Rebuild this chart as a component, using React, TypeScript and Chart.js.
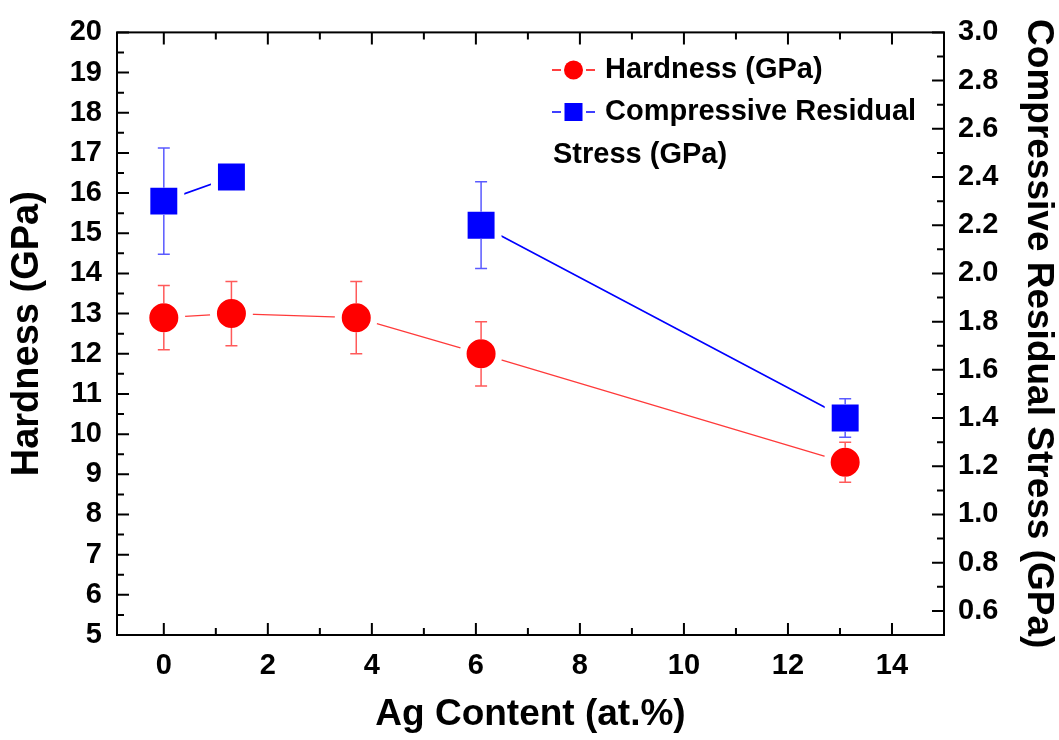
import React, { useEffect, useRef } from 'react';
import { Chart, registerables } from 'chart.js';

Chart.register(...registerables);

const FONT = '"Liberation Sans", Arial, Helvetica, sans-serif';

// ---- data ----
const AG_CONTENT = [0, 1.3, 3.7, 6.1, 13.1];
const HARDNESS = [12.9, 13.0, 12.9, 12.0, 9.3];
const HARDNESS_ERR = [0.8, 0.8, 0.9, 0.8, 0.5];
const STRESS: (number | null)[] = [2.3, 2.4, null, 2.2, 1.4];
const STRESS_ERR: (number | null)[] = [0.22, 0.04, null, 0.18, 0.08];

// ---- ticks ----
const X_TICKS = [0, 2, 4, 6, 8, 10, 12, 14];
const X_MINOR = [1, 3, 5, 7, 9, 11, 13];
const LEFT_TICKS = [5, 6, 7, 8, 9, 10, 11, 12, 13, 14, 15, 16, 17, 18, 19, 20];
const LEFT_MINOR = [5.5, 6.5, 7.5, 8.5, 9.5, 10.5, 11.5, 12.5, 13.5, 14.5, 15.5, 16.5, 17.5, 18.5, 19.5];
const RIGHT_TICKS = [0.6, 0.8, 1.0, 1.2, 1.4, 1.6, 1.8, 2.0, 2.2, 2.4, 2.6, 2.8, 3.0];
const RIGHT_MINOR = [0.7, 0.9, 1.1, 1.3, 1.5, 1.7, 1.9, 2.1, 2.3, 2.5, 2.7, 2.9];

const X_TITLE = 'Ag Content (at.%)';
const LEFT_TITLE = 'Hardness (GPa)';
const RIGHT_TITLE = 'Compressive Residual Stress (GPa)';
const LEGEND_HARDNESS = 'Hardness (GPa)';
const LEGEND_STRESS_1 = 'Compressive Residual';
const LEGEND_STRESS_2 = 'Stress (GPa)';

const RED = '#ff0000';
const BLUE = '#0000ff';
const RED_ERR = '#ff5a5a';
const BLUE_ERR = '#5a5aff';

const CIRCLE_HALF = 14.5;
const SQUARE_HALF = 13.5;
const TICK_SIZE = 29;

const framePlugin = {
  id: 'frameTicksErr',
  afterDatasetsDraw(chart: any) {
    const { ctx, scales } = chart;
    const drawErr = (yScale: any, vals: (number | null)[], errs: (number | null)[], color: string, half: number) => {
      ctx.save();
      ctx.strokeStyle = color;
      ctx.lineWidth = 1.5;
      AG_CONTENT.forEach((xv, i) => {
        const v = vals[i];
        const e = errs[i];
        if (v == null || e == null) return;
        const x = scales.x.getPixelForValue(xv);
        const yc = yScale.getPixelForValue(v);
        const yt = yScale.getPixelForValue(v + e);
        const yb = yScale.getPixelForValue(v - e);
        ctx.beginPath();
        if (yc - yt > half) {
          ctx.moveTo(x, yt);
          ctx.lineTo(x, yc - half);
          ctx.moveTo(x - 6, yt);
          ctx.lineTo(x + 6, yt);
        }
        if (yb - yc > half) {
          ctx.moveTo(x, yc + half);
          ctx.lineTo(x, yb);
          ctx.moveTo(x - 6, yb);
          ctx.lineTo(x + 6, yb);
        }
        ctx.stroke();
      });
      ctx.restore();
    };
    drawErr(scales.y, HARDNESS, HARDNESS_ERR, RED_ERR, CIRCLE_HALF);
    drawErr(scales.y1, STRESS, STRESS_ERR, BLUE_ERR, SQUARE_HALF);
  },
  afterDraw(chart: any) {
    const { ctx, chartArea: a, scales } = chart;
    ctx.save();
    ctx.strokeStyle = '#000';
    ctx.lineWidth = 2;
    ctx.strokeRect(a.left, a.top, a.right - a.left, a.bottom - a.top);
    ctx.beginPath();
    const MAJ = 12;
    const MIN = 7;
    X_TICKS.forEach((v) => {
      const x = scales.x.getPixelForValue(v);
      ctx.moveTo(x, a.bottom); ctx.lineTo(x, a.bottom - MAJ);
      ctx.moveTo(x, a.top); ctx.lineTo(x, a.top + MAJ);
    });
    X_MINOR.forEach((v) => {
      const x = scales.x.getPixelForValue(v);
      ctx.moveTo(x, a.bottom); ctx.lineTo(x, a.bottom - MIN);
      ctx.moveTo(x, a.top); ctx.lineTo(x, a.top + MIN);
    });
    LEFT_TICKS.forEach((v) => {
      const y = scales.y.getPixelForValue(v);
      ctx.moveTo(a.left, y); ctx.lineTo(a.left + MAJ, y);
    });
    LEFT_MINOR.forEach((v) => {
      const y = scales.y.getPixelForValue(v);
      ctx.moveTo(a.left, y); ctx.lineTo(a.left + MIN, y);
    });
    RIGHT_TICKS.forEach((v) => {
      const y = scales.y1.getPixelForValue(v);
      ctx.moveTo(a.right, y); ctx.lineTo(a.right - MAJ, y);
    });
    RIGHT_MINOR.forEach((v) => {
      const y = scales.y1.getPixelForValue(v);
      ctx.moveTo(a.right, y); ctx.lineTo(a.right - MIN, y);
    });
    ctx.stroke();

    // legend
    const lx = 552;
    const r1 = 70;
    const r2 = 112;
    const r3 = 155;
    ctx.lineWidth = 1.5;
    ctx.strokeStyle = RED;
    ctx.beginPath();
    ctx.moveTo(lx, r1); ctx.lineTo(lx + 9, r1);
    ctx.moveTo(lx + 34, r1); ctx.lineTo(lx + 43, r1);
    ctx.stroke();
    ctx.fillStyle = RED;
    ctx.beginPath();
    ctx.arc(lx + 21.5, r1, 9.5, 0, Math.PI * 2);
    ctx.fill();
    ctx.strokeStyle = BLUE;
    ctx.beginPath();
    ctx.moveTo(lx, r2); ctx.lineTo(lx + 9, r2);
    ctx.moveTo(lx + 34, r2); ctx.lineTo(lx + 43, r2);
    ctx.stroke();
    ctx.fillStyle = BLUE;
    ctx.fillRect(lx + 21.5 - 9, r2 - 9, 18, 18);

    ctx.fillStyle = '#000';
    ctx.font = `bold 29px ${FONT}`;
    ctx.textBaseline = 'middle';
    ctx.textAlign = 'left';
    ctx.fillText(LEGEND_HARDNESS, 605, r1);
    ctx.fillText(LEGEND_STRESS_1, 605, r2);
    ctx.fillText(LEGEND_STRESS_2, 553, r3);
    ctx.restore();
  },
};

export default function App() {
  const ref = useRef<HTMLCanvasElement>(null);
  useEffect(() => {
    if (!ref.current) return;
    const chart = new Chart(ref.current, {
      type: 'scatter',
      data: {
        datasets: [
          {
            label: LEGEND_HARDNESS,
            data: AG_CONTENT.map((x, i) => ({ x, y: HARDNESS[i] })),
            yAxisID: 'y',
            showLine: true,
            borderColor: '#ff3a3a',
            borderWidth: 1.3,
            backgroundColor: RED,
            pointStyle: 'circle',
            pointRadius: 18,
            pointHoverRadius: 18,
            pointBorderColor: '#ffffff',
            pointBorderWidth: 7,
            pointBackgroundColor: RED,
          },
          {
            label: LEGEND_STRESS_1 + ' ' + LEGEND_STRESS_2,
            data: AG_CONTENT.map((x, i) => ({ x, y: STRESS[i] })),
            yAxisID: 'y1',
            showLine: true,
            spanGaps: false,
            borderColor: BLUE,
            borderWidth: 1.6,
            backgroundColor: BLUE,
            pointStyle: 'rect',
            pointRadius: 24,
            pointHoverRadius: 24,
            pointBorderColor: '#ffffff',
            pointBorderWidth: 7,
            pointBackgroundColor: BLUE,
          },
        ] as any,
      },
      options: {
        animation: false,
        responsive: false,
        devicePixelRatio: 1,
        layout: { padding: { top: 28, left: 0, right: 0, bottom: 0 } },
        plugins: { legend: { display: false }, tooltip: { enabled: false } },
        events: [],
        scales: {
          x: {
            type: 'linear',
            min: -0.9,
            max: 15,
            grid: { display: false, drawTicks: false },
            border: { display: false },
            ticks: {
              color: '#000',
              font: { family: FONT, size: TICK_SIZE, weight: 'bold' },
              padding: 14,
              maxRotation: 0,
              autoSkip: false,
            },
            title: {
              display: true,
              text: X_TITLE,
              color: '#000',
              font: { family: FONT, size: 37, weight: 'bold' },
              padding: { top: 0, bottom: 3 },
            },
            afterBuildTicks: (s: any) => {
              s.ticks = X_TICKS.map((v) => ({ value: v }));
            },
            afterFit: (s: any) => {
              s.height = 105;
            },
          },
          y: {
            type: 'linear',
            position: 'left',
            min: 5,
            max: 20,
            grid: { display: false, drawTicks: false },
            border: { display: false },
            ticks: {
              color: '#000',
              font: { family: FONT, size: TICK_SIZE, weight: 'bold' },
              padding: 15,
              autoSkip: false,
            },
            title: {
              display: true,
              text: LEFT_TITLE,
              color: '#000',
              font: { family: FONT, size: 38, weight: 'bold' },
              padding: { top: 5, bottom: 0 },
            },
            afterBuildTicks: (s: any) => {
              s.ticks = LEFT_TICKS.map((v) => ({ value: v }));
            },
            afterFit: (s: any) => {
              s.width = 117;
            },
          },
          y1: {
            type: 'linear',
            position: 'right',
            min: 0.5,
            max: 3.0,
            grid: { display: false, drawTicks: false },
            border: { display: false },
            ticks: {
              color: '#000',
              font: { family: FONT, size: TICK_SIZE, weight: 'bold' },
              padding: 14,
              autoSkip: false,
              callback: (v: any) => Number(v).toFixed(1),
            },
            title: {
              display: true,
              text: RIGHT_TITLE,
              color: '#000',
              font: { family: FONT, size: 37, weight: 'bold', lineHeight: 1.1 },
              padding: { top: 0, bottom: 0 },
            },
            afterBuildTicks: (s: any) => {
              s.ticks = RIGHT_TICKS.map((v) => ({ value: v }));
            },
            afterFit: (s: any) => {
              s.width = 115;
            },
          },
        },
      } as any,
      plugins: [framePlugin],
    });
    return () => chart.destroy();
  }, []);

  return (
    <div style={{ position: 'absolute', left: 0, top: 0, width: 1059, height: 740, background: '#fff' }}>
      <canvas ref={ref} width={1059} height={740} style={{ display: 'block' }} />
    </div>
  );
}
